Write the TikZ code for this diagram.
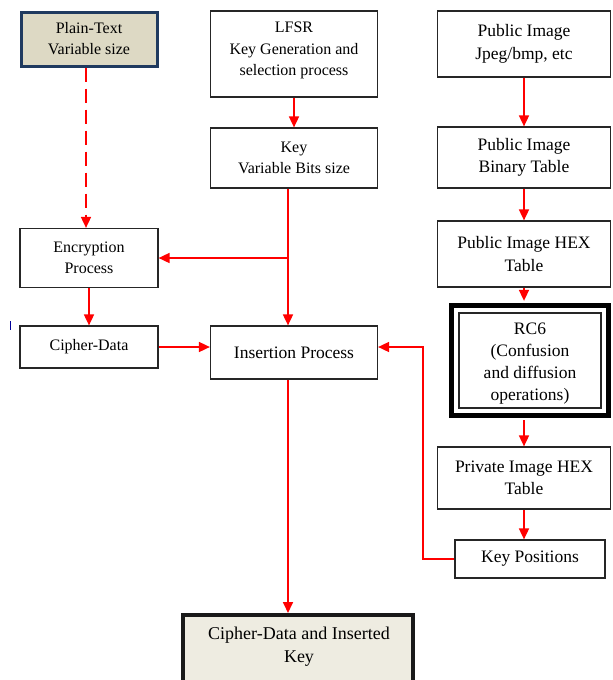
\documentclass[tikz,border=0pt]{standalone}
\usepackage{fontspec}
\setmainfont{Liberation Serif}
\usetikzlibrary{arrows.meta,positioning,calc}
\definecolor{beige}{HTML}{DDD9C4}
\definecolor{lbeige}{HTML}{EEECE1}
\definecolor{navy}{HTML}{1F3A5F}
\begin{document}
\begin{tikzpicture}[x=1pt,y=-1pt,
  box/.style={draw=black!85,line width=1.2pt,fill=white,align=center,inner sep=2pt,
    font=\fontsize{16}{21}\selectfont},
  bigtext/.style={font=\fontsize{17.5}{22.5}\selectfont},
  conn/.style={draw=red,line width=1.7pt,-{Triangle[length=11pt,width=10pt]}},
  plainline/.style={draw=red,line width=1.7pt}]
\useasboundingbox (0,0) rectangle (613,680);
\clip (0,0) rectangle (613,680);
% nodes
\node[box,draw=navy,line width=3pt,fill=beige,minimum width=136pt,minimum height=54pt] (plain) at (89,39) {Plain-Text\\Variable size};
\node[box,minimum width=167pt,minimum height=86pt,
  label={[align=center,font=\fontsize{16}{21.5}\selectfont,yshift=3.5pt]center:LFSR\\Key Generation and\\selection process}] (lfsr) at (294,54) {};
\node[box,bigtext,minimum width=173pt,minimum height=66pt] (pub) at (524,44) {Public Image\\Jpeg/bmp, etc};
\node[box,minimum width=167pt,minimum height=60pt] (key) at (294,158) {Key\\Variable Bits size};
\node[box,bigtext,minimum width=173pt,minimum height=61pt] (bin) at (524,157.5) {Public Image\\Binary Table};
\node[box,bigtext,minimum width=173pt,minimum height=66pt] (hex) at (524,254) {Public Image HEX\\Table};
\node[box,minimum width=138pt,minimum height=59pt] (enc) at (89,258) {Encryption\\Process};
\node[box,minimum width=138pt,minimum height=42pt] (cd) at (89,347) {Cipher-Data};
\node[box,bigtext,minimum width=167pt,minimum height=53pt] (ins) at (294,352.5) {Insertion Process};
\node[box,line width=1.3pt,minimum width=142pt,minimum height=95pt,
  label={[align=center,font=\fontsize{17.5}{22}\selectfont,yshift=-3pt]center:RC6\\(Confusion\\and diffusion\\operations)}] (rc6) at (530,360.5) {};
\draw[line width=5pt,black] ([shift={(-6.5,-6.5)}]rc6.north west) rectangle ([shift={(6.5,6.5)}]rc6.south east);
\node[box,bigtext,minimum width=173pt,minimum height=62pt] (priv) at (524,478) {Private Image HEX\\Table};
\node[box,bigtext,minimum width=150pt,minimum height=38pt] (kp) at (530,559) {Key Positions};
\draw[line width=4pt,black!90,fill=lbeige] (183,615) rectangle (413,692);
\node[align=center,font=\fontsize{18}{23}\selectfont] (final) at (299,647) {Cipher-Data and Inserted\\Key};
\coordinate (ftop) at (288,613);
% stray mark
\draw[blue!60!black,line width=0.8pt] (10,321) -- (10,330);
% connectors
\coordinate (ps) at ([xshift=-3pt]plain.south);
\draw[conn,dash pattern=on 14pt off 7pt] (ps) -- (ps |- enc.north);
\draw[conn] (lfsr.south) -- (key.north);
\coordinate (ks) at ([xshift=-6pt]key.south);
\coordinate (br) at (ks |- enc.east);
\draw[conn] (ks) -- (ks |- ins.north);
\draw[conn] (br) -- (enc.east);
\draw[conn] (enc.south) -- (cd.north);
\draw[conn] (cd.east) -- (cd.east -| ins.west);
\draw[conn] (pub.south) -- (bin.north);
\draw[conn] (bin.south) -- (hex.north);
\coordinate (rtop) at ([yshift=11.5pt]rc6.north);
\draw[conn] (hex.south) -- (hex.south |- rtop);
\coordinate (rbot) at ([yshift=-11.5pt]rc6.south);
\draw[conn] (hex.south |- rbot) -- (priv.north);
\draw[conn] (priv.south) -- (priv.south |- kp.north);
\coordinate (rt) at (423,559);
\draw[conn] (kp.west) -- (rt) -- (rt |- cd.east) -- (cd.east -| ins.east);
\coordinate (is) at ([xshift=-6pt]ins.south);
\draw[conn] (is) -- (is |- ftop);
\end{tikzpicture}
\end{document}
